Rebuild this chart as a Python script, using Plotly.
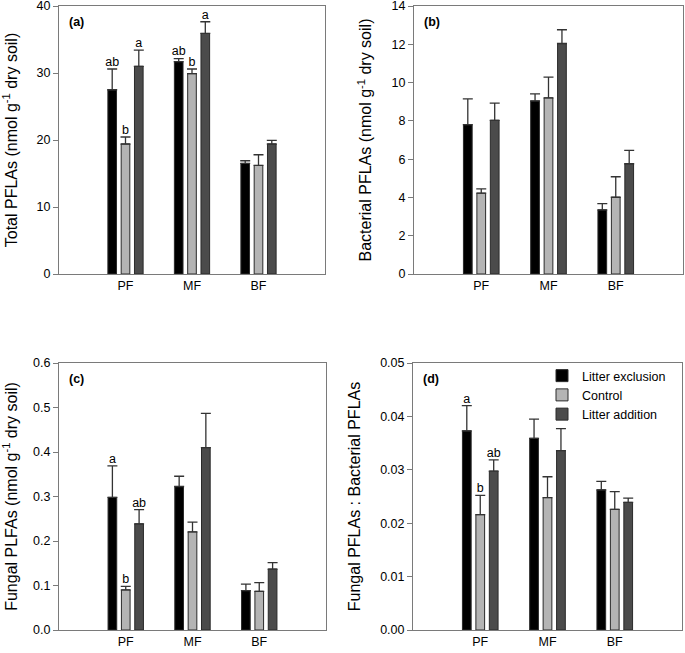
import plotly.graph_objects as go
import numpy as np

categories = ["PF", "MF", "BF"]
treatments = ["Litter exclusion", "Control", "Litter addition"]
colors = ["#000000", "#b4b4b4", "#4b4b4b"]

# Panel (a) Total PLFAs
total_mean = [[27.5, 31.7, 16.5], [19.4, 29.9, 16.2], [31.0, 35.9, 19.4]]
total_err = [[3.1, 0.45, 0.4], [1.05, 0.7, 1.6], [2.4, 1.75, 0.55]]
total_letters = [["ab", "ab", ""], ["b", "b", ""], ["a", "a", ""]]

# Panel (b) Bacterial PLFAs
bact_mean = [[7.8, 9.04, 3.35], [4.22, 9.2, 4.01], [8.03, 12.04, 5.76]]
bact_err = [[1.35, 0.37, 0.33], [0.23, 1.08, 1.07], [0.9, 0.72, 0.7]]
bact_letters = [["", "", ""], ["", "", ""], ["", "", ""]]

# Panel (c) Fungal PLFAs
fung_mean = [[0.298, 0.3225, 0.0885], [0.090, 0.2205, 0.087], [0.2385, 0.410, 0.137]]
fung_err = [[0.071, 0.023, 0.0145], [0.008, 0.022, 0.0195], [0.032, 0.077, 0.0145]]
fung_letters = [["a", "", ""], ["b", "", ""], ["ab", "", ""]]

# Panel (d) Fungal : Bacterial ratio
ratio_mean = [[0.0373, 0.0359, 0.02625], [0.0216, 0.0248, 0.0226], [0.02975, 0.0336, 0.0239]]
ratio_err = [[0.0047, 0.0036, 0.0016], [0.0036, 0.0039, 0.0033], [0.0021, 0.0041, 0.0008]]
ratio_letters = [["a", "", ""], ["b", "", ""], ["ab", "", ""]]

panels = [
    dict(mean=total_mean, err=total_err, letters=total_letters, label="(a)",
         title="Total PFLAs (nmol g<sup>-1</sup> dry soil)", range=[0, 40], dtick=10, fmt="d"),
    dict(mean=bact_mean, err=bact_err, letters=bact_letters, label="(b)",
         title="Bacterial PFLAs (nmol g<sup>-1</sup> dry soil)", range=[0, 14], dtick=2, fmt="d"),
    dict(mean=fung_mean, err=fung_err, letters=fung_letters, label="(c)",
         title="Fungal PLFAs (nmol g<sup>-1</sup> dry soil)", range=[0, 0.6], dtick=0.1, fmt=".1f"),
    dict(mean=ratio_mean, err=ratio_err, letters=ratio_letters, label="(d)",
         title="Fungal PFLAs : Bacterial PFLAs", range=[0, 0.05], dtick=0.01, fmt=".2f"),
]

W, H = 685, 653
boxes = [  # left, right, top, bottom in px
    (59, 325, 6, 274),
    (414, 683, 6, 274),
    (59, 326, 363, 630),
    (413, 682, 363, 630),
]
offsets = [-0.2, 0.0, 0.2]
bar_w = 0.13
FONT = "Liberation Sans, Arial, sans-serif"

fig = go.Figure()
layout = dict(
    width=W, height=H, margin=dict(l=0, r=0, t=0, b=0, autoexpand=False),
    paper_bgcolor="white", plot_bgcolor="white",
    font=dict(family=FONT, size=12.5, color="black"),
    showlegend=True,
    legend=dict(x=542 / W, y=1 - 361 / H, xanchor="left", yanchor="top",
                bgcolor="rgba(0,0,0,0)", font=dict(size=12.5), tracegroupgap=0),
    annotations=[],
)

xc = np.arange(len(categories))
for p, (panel, box) in enumerate(zip(panels, boxes)):
    sfx = "" if p == 0 else str(p + 1)
    xa, ya = "x" + sfx, "y" + sfx
    l, r, t, b = box
    for j in range(3):
        fig.add_trace(go.Bar(
            x=xc + offsets[j], y=panel["mean"][j], width=bar_w,
            name=treatments[j], showlegend=(p == 3),
            marker=dict(color=colors[j], line=dict(color="#2a2a2a", width=1)),
            error_y=dict(type="data", array=panel["err"][j], arrayminus=[0] * 3,
                         symmetric=False, color="#333333", thickness=1.3, width=5),
            xaxis=xa, yaxis=ya,
        ))
        lx, ly, lt = [], [], []
        for k in range(len(categories)):
            if panel["letters"][j][k]:
                lx.append(xc[k] + offsets[j])
                ly.append(panel["mean"][j][k] + panel["err"][j][k])
                lt.append(panel["letters"][j][k])
        if lt:
            fig.add_trace(go.Scatter(
                x=lx, y=ly, mode="text", text=lt,
                textposition="top center", textfont=dict(size=12.5, color="black"),
                showlegend=False, hoverinfo="skip", xaxis=xa, yaxis=ya,
            ))
    layout["xaxis" + sfx] = dict(
        domain=[l / W, r / W], anchor=ya, range=[-1, 3], automargin=False,
        tickvals=list(xc), ticktext=categories, ticks="", ticklabeloverflow="allow",
        showline=True, linecolor="#7a7a7a", linewidth=1, mirror=True,
        showgrid=False, zeroline=False, tickfont=dict(size=12.5),
    )
    layout["yaxis" + sfx] = dict(
        domain=[1 - b / H, 1 - t / H], anchor=xa, range=panel["range"], automargin=False,
        dtick=panel["dtick"], tick0=0, tickformat=panel["fmt"], ticklabeloverflow="allow",
        ticks="outside", ticklen=5, tickcolor="#7a7a7a",
        showline=True, linecolor="#7a7a7a", linewidth=1, mirror=True,
        showgrid=False, zeroline=False, tickfont=dict(size=12.5),
        title=dict(text=panel["title"], font=dict(size=16)),
    )
    layout["annotations"].append(dict(
        text="<b>" + panel["label"] + "</b>", xref=xa + " domain", yref=ya + " domain",
        x=0.03, y=0.975, xanchor="left", yanchor="top", showarrow=False,
        font=dict(size=12.5, color="black"),
    ))

fig.update_layout(**layout)
fig.write_html("out.html", config={"displayModeBar": False},
               post_script="document.body.style.margin='0';")
